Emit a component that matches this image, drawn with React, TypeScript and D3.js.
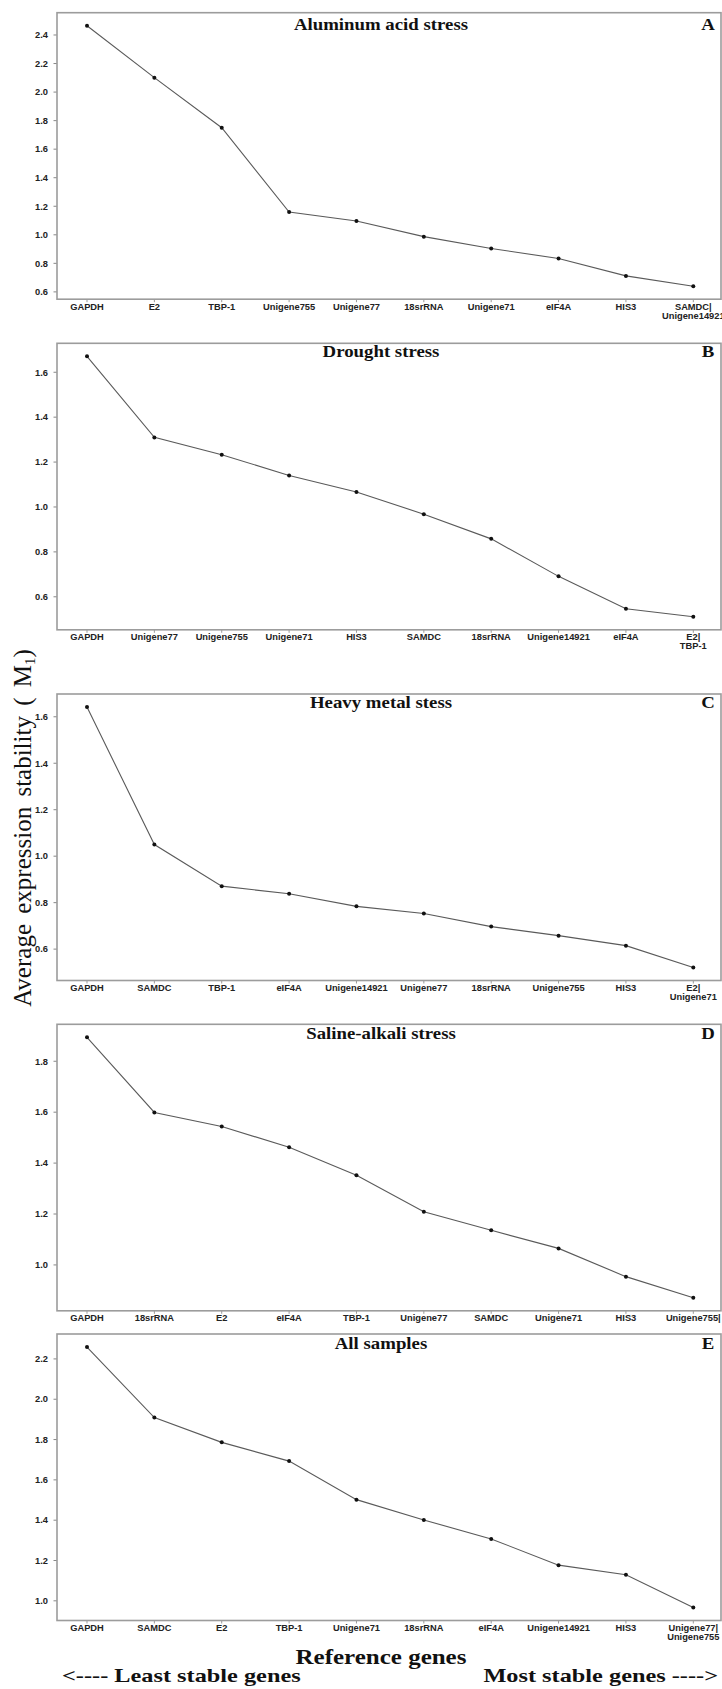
import React from 'react';
import * as d3 from 'd3';

// gene order (least -> most stable) and M values per condition
const genesA = ['GAPDH', 'E2', 'TBP-1', 'Unigene755', 'Unigene77', '18srRNA', 'Unigene71', 'eIF4A', 'HIS3', 'SAMDC|Unigene14921'];
const valuesA = [2.465, 2.101, 1.75, 1.159, 1.097, 0.987, 0.904, 0.834, 0.712, 0.64];

const genesB = ['GAPDH', 'Unigene77', 'Unigene755', 'Unigene71', 'HIS3', 'SAMDC', '18srRNA', 'Unigene14921', 'eIF4A', 'E2|TBP-1'];
const valuesB = [1.671, 1.31, 1.233, 1.14, 1.067, 0.968, 0.858, 0.691, 0.547, 0.511];

const genesC = ['GAPDH', 'SAMDC', 'TBP-1', 'eIF4A', 'Unigene14921', 'Unigene77', '18srRNA', 'Unigene755', 'HIS3', 'E2|Unigene71'];
const valuesC = [1.642, 1.05, 0.871, 0.838, 0.784, 0.753, 0.697, 0.658, 0.615, 0.521];

const genesD = ['GAPDH', '18srRNA', 'E2', 'eIF4A', 'TBP-1', 'Unigene77', 'SAMDC', 'Unigene71', 'HIS3', 'Unigene755|'];
const valuesD = [1.894, 1.599, 1.544, 1.462, 1.352, 1.209, 1.136, 1.065, 0.954, 0.871];

const genesE = ['GAPDH', 'SAMDC', 'E2', 'TBP-1', 'Unigene71', '18srRNA', 'eIF4A', 'Unigene14921', 'HIS3', 'Unigene77|Unigene755'];
const valuesE = [2.259, 1.909, 1.786, 1.693, 1.502, 1.401, 1.307, 1.177, 1.129, 0.967];

const titles = ['Aluminum acid stress', 'Drought stress', 'Heavy metal stess', 'Saline-alkali stress', 'All samples'];
const letters = ['A', 'B', 'C', 'D', 'E'];

const W = 722;
const H = 1689;
const frameLeft = 57;
const frameRight = 721;
const panelH = 286.5;
const panelTops = [12.7, 343.3, 694, 1024.3, 1334];
const titleOffsets = [17.3, 14, 13.5, 14.2, 15];
const serif = '"Liberation Serif", "Times New Roman", serif';
const sans = '"Liberation Sans", Arial, sans-serif';

const panels = [
  { genes: genesA, values: valuesA },
  { genes: genesB, values: valuesB },
  { genes: genesC, values: valuesC },
  { genes: genesD, values: valuesD },
  { genes: genesE, values: valuesE },
];

function splitLabel(s: string): [string, string] {
  const i = s.indexOf('|');
  if (i < 0) return [s, ''];
  return [s.slice(0, i + 1), s.slice(i + 1)];
}

const Panel: React.FC<{ idx: number }> = ({ idx }) => {
  const { genes, values } = panels[idx];
  const top = panelTops[idx];
  const bottom = top + panelH;

  // ggplot-like 5% expansion
  const lo = d3.min(values) as number;
  const hi = d3.max(values) as number;
  const pad = (hi - lo) * 0.05;
  const y = d3.scaleLinear().domain([lo - pad, hi + pad]).range([bottom, top]);
  const ticks = d3.range(Math.ceil((lo - pad) * 5), Math.floor((hi + pad) * 5) + 1).map((k) => k / 5);

  const x = d3.scalePoint<number>().domain(d3.range(genes.length)).range([87, 693.3]);

  const line = d3.line<number>()
    .x((_, i) => x(i) as number)
    .y((d) => y(d));

  return (
    <g>
      {/* y axis ticks */}
      {ticks.map((t) => (
        <g key={t}>
          <line x1={frameLeft - 3.5} x2={frameLeft} y1={y(t)} y2={y(t)} stroke="#888" strokeWidth={1} />
          <text x={48} y={y(t)} dy="0.35em" textAnchor="end" fontFamily={sans} fontWeight="bold" fontSize={9.3} fill="#222">
            {d3.format('.1f')(t)}
          </text>
        </g>
      ))}
      {/* x axis labels */}
      {genes.map((g, i) => {
        const [l1, l2] = splitLabel(g);
        const cx = x(i) as number;
        return (
          <g key={i}>
            <line x1={cx} x2={cx} y1={bottom} y2={bottom + 3} stroke="#999" strokeWidth={1} />
            <text x={cx} y={bottom + 10.5} textAnchor="middle" fontFamily={sans} fontWeight="bold" fontSize={9.3} fill="#222">
              {l1}
            </text>
            {l2 && (
              <text x={cx} y={bottom + 19.3} textAnchor="middle" fontFamily={sans} fontWeight="bold" fontSize={9.3} fill="#222">
                {l2}
              </text>
            )}
          </g>
        );
      })}
      {/* frame */}
      <rect x={frameLeft} y={top} width={frameRight - frameLeft} height={panelH} fill="none" stroke="#9c9c9c" strokeWidth={1.6} />
      {/* line + points */}
      <path d={line(values) || ''} fill="none" stroke="#5a5a5a" strokeWidth={1.1} />
      {values.map((v, i) => (
        <circle key={i} cx={x(i) as number} cy={y(v)} r={2} fill="#111" />
      ))}
      {/* title and panel letter */}
      <text
        transform={`translate(381,${top + titleOffsets[idx]}) scale(1.14,1)`}
        textAnchor="middle"
        fontFamily={serif}
        fontWeight="bold"
        fontSize={16.5}
        fill="#111"
      >
        {titles[idx]}
      </text>
      <text
        transform={`translate(708,${top + titleOffsets[idx]}) scale(1.14,1)`}
        textAnchor="middle"
        fontFamily={serif}
        fontWeight="bold"
        fontSize={16.5}
        fill="#111"
      >
        {letters[idx]}
      </text>
    </g>
  );
};

export default function App() {
  return (
    <svg
      width={W}
      height={H}
      viewBox={`0 0 ${W} ${H}`}
      style={{ position: 'absolute', left: 0, top: 0, background: '#fff' }}
    >
      <rect x={0} y={0} width={W} height={H} fill="#fff" />
      {panels.map((_, i) => (
        <Panel key={i} idx={i} />
      ))}
      {/* shared y axis title */}
      <text
        transform="translate(31,828) rotate(-90)"
        textAnchor="middle"
        fontFamily={serif}
        fontSize={25}
        fill="#111"
        wordSpacing={4}
      >
        Average expression stability ( M
        <tspan fontSize={15} dy={4}>1</tspan>
        <tspan dy={-4}>)</tspan>
      </text>
      {/* x axis title */}
      <text
        transform="translate(381,1664) scale(1.25,1)"
        textAnchor="middle"
        fontFamily={serif}
        fontWeight="bold"
        fontSize={20}
        fill="#111"
      >
        Reference genes
      </text>
      <text
        transform="translate(62,1682) scale(1.28,1)"
        textAnchor="start"
        fontFamily={serif}
        fontWeight="bold"
        fontSize={19}
        fill="#111"
      >
        {'<---- Least stable genes'}
      </text>
      <text
        transform="translate(718,1682) scale(1.28,1)"
        textAnchor="end"
        fontFamily={serif}
        fontWeight="bold"
        fontSize={19}
        fill="#111"
      >
        {'Most stable genes ---->'}
      </text>
    </svg>
  );
}
